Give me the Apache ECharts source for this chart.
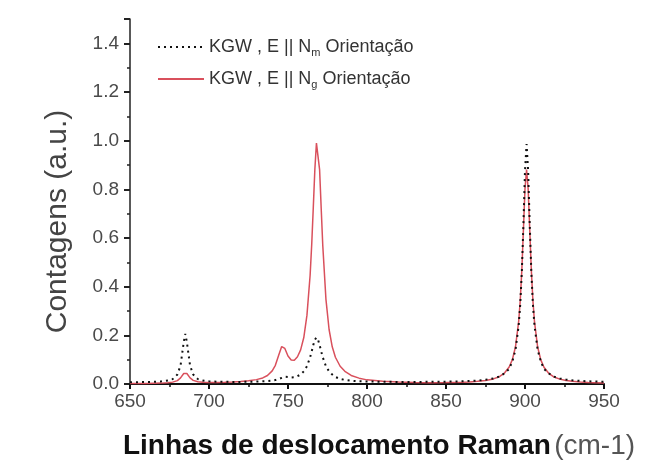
<!DOCTYPE html>
<html>
<head>
<meta charset="utf-8">
<script src="https://cdn.jsdelivr.net/npm/echarts@6/dist/echarts.min.js"></script>
<style>html,body{margin:0;padding:0;background:#fff}#c{width:652px;height:471px}</style>
</head>
<body>
<div id="c"></div>
<script>
// Raman shift (cm-1)
var wavenumber = [650,655,660,665,670,674,677,680,682,684,685,686,688,690,693,696,700,705,710,715,720,725,730,734,737,740,742,744,746,747,748,750,752,754,756,758,760,762,764,765,766,767,768,769,770,771,772,774,776,778,780,783,786,790,795,800,810,820,830,840,850,860,865,870,875,880,884,887,890,892,894,896,897,898,899,900,901,902,903,904,905,906,908,910,912,915,918,922,926,930,935,940,945,950];
// KGW, E || Nm (black dotted)
var countsNm = [0.007,0.0075,0.008,0.009,0.011,0.014,0.020,0.039,0.076,0.172,0.206,0.172,0.076,0.039,0.020,0.014,0.011,0.0094,0.009,0.0085,0.0087,0.009,0.010,0.011,0.0118,0.0137,0.016,0.020,0.025,0.028,0.030,0.029,0.027,0.028,0.032,0.039,0.052,0.073,0.110,0.134,0.160,0.182,0.191,0.182,0.160,0.134,0.110,0.073,0.052,0.039,0.029,0.021,0.017,0.0134,0.011,0.0104,0.009,0.0086,0.0085,0.009,0.0095,0.011,0.0123,0.014,0.0177,0.023,0.031,0.044,0.062,0.093,0.141,0.240,0.328,0.462,0.655,0.875,0.986,0.875,0.655,0.462,0.328,0.240,0.141,0.093,0.062,0.044,0.031,0.023,0.018,0.015,0.0126,0.011,0.010,0.009];
// KGW, E || Ng (red solid)
var countsNg = [0.002,0.002,0.0023,0.003,0.0036,0.005,0.0077,0.014,0.025,0.043,0.047,0.043,0.025,0.015,0.009,0.007,0.006,0.0063,0.007,0.008,0.010,0.013,0.018,0.025,0.035,0.054,0.077,0.116,0.154,0.156,0.146,0.115,0.099,0.098,0.112,0.140,0.191,0.283,0.447,0.572,0.724,0.882,0.990,0.989,0.881,0.723,0.570,0.349,0.224,0.153,0.110,0.073,0.052,0.035,0.024,0.017,0.011,0.008,0.006,0.0055,0.006,0.0072,0.0086,0.011,0.0145,0.021,0.031,0.045,0.070,0.100,0.153,0.257,0.344,0.469,0.634,0.803,0.881,0.802,0.633,0.468,0.343,0.256,0.152,0.099,0.069,0.044,0.030,0.020,0.014,0.011,0.008,0.006,0.005,0.004];
var xTicks = [650,700,750,800,850,900,950];
var yTicks = [0.0,0.2,0.4,0.6,0.8,1.0,1.2,1.4];
var seriesNames = ['Nm','Ng'];

function pairs(xs, ys){ return xs.map(function(x,i){ return [x, ys[i]]; }); }

var chart = echarts.init(document.getElementById('c'), null, {renderer:'canvas'});
var font = "'Liberation Sans', Arial, sans-serif";
chart.setOption({
  animation:false,
  backgroundColor:'#fff',
  grid:{left:130,right:48,top:19,bottom:87,containLabel:false},
  legend:{
    orient:'vertical', left:152, top:33, itemWidth:46, itemHeight:14, itemGap:12,
    data:seriesNames,
    itemStyle:{opacity:0},
    formatter:function(n){
      return '{t|KGW , E || N}{s|' + (n==='Nm'?'m':'g') + '}{t| Orientação}';
    },
    textStyle:{fontFamily:font, fontSize:18, color:'#333',
      rich:{t:{fontFamily:font,fontSize:18,color:'#333',lineHeight:22},
            s:{fontFamily:font,fontSize:11,color:'#333',verticalAlign:'bottom',lineHeight:22}}}
  },
  xAxis:{
    type:'value', min:xTicks[0], max:xTicks[xTicks.length-1], interval:50,
    name:'{b|Linhas de deslocamento Raman} {n|(cm-1)}',
    nameLocation:'middle', nameGap:48,
    nameTextStyle:{padding:[0,0,0,24],
      rich:{b:{fontFamily:font,fontSize:28,fontWeight:'bold',color:'#111'},
            n:{fontFamily:font,fontSize:28,color:'#555'}}},
    axisLine:{show:true,onZero:false,lineStyle:{color:'#111',width:2}},
    axisTick:{show:true,inside:false,length:5,lineStyle:{color:'#111',width:2}},
    minorTick:{show:true,splitNumber:2,length:3,lineStyle:{color:'#111',width:1.5}},
    axisLabel:{margin:8,fontFamily:font,fontSize:19,color:'#4a4a4a'},
    splitLine:{show:false}
  },
  yAxis:{
    type:'value', min:0, max:1.5, interval:0.2,
    name:'Contagens (a.u.)', nameLocation:'middle', nameGap:57, nameRotate:90,
    nameTextStyle:{fontFamily:font,fontSize:30,color:'#444',padding:[0,40,0,0]},
    axisLine:{show:true,lineStyle:{color:'#222',width:1.5}},
    axisTick:{show:true,inside:false,length:6,lineStyle:{color:'#222',width:2}},
    minorTick:{show:true,splitNumber:2,length:3,lineStyle:{color:'#222',width:1.5}},
    axisLabel:{margin:11,fontFamily:font,fontSize:19,color:'#4a4a4a',showMaxLabel:false,
      formatter:function(v){ return yTicks.indexOf(Math.round(v*10)/10)>=0 ? v.toFixed(1) : ''; }},
    splitLine:{show:false}
  },
  series:[
    {name:'Nm', type:'line', data:pairs(wavenumber,countsNm), showSymbol:false, symbol:'none', z:4,
     lineStyle:{color:'#111',width:2,type:[2,4]}, itemStyle:{color:'#111'}},
    {name:'Ng', type:'line', data:pairs(wavenumber,countsNg), showSymbol:false, symbol:'none', z:3,
     lineStyle:{color:'#d9505c',width:1.5}, itemStyle:{color:'#d9505c'}}
  ]
});
</script>
</body>
</html>
